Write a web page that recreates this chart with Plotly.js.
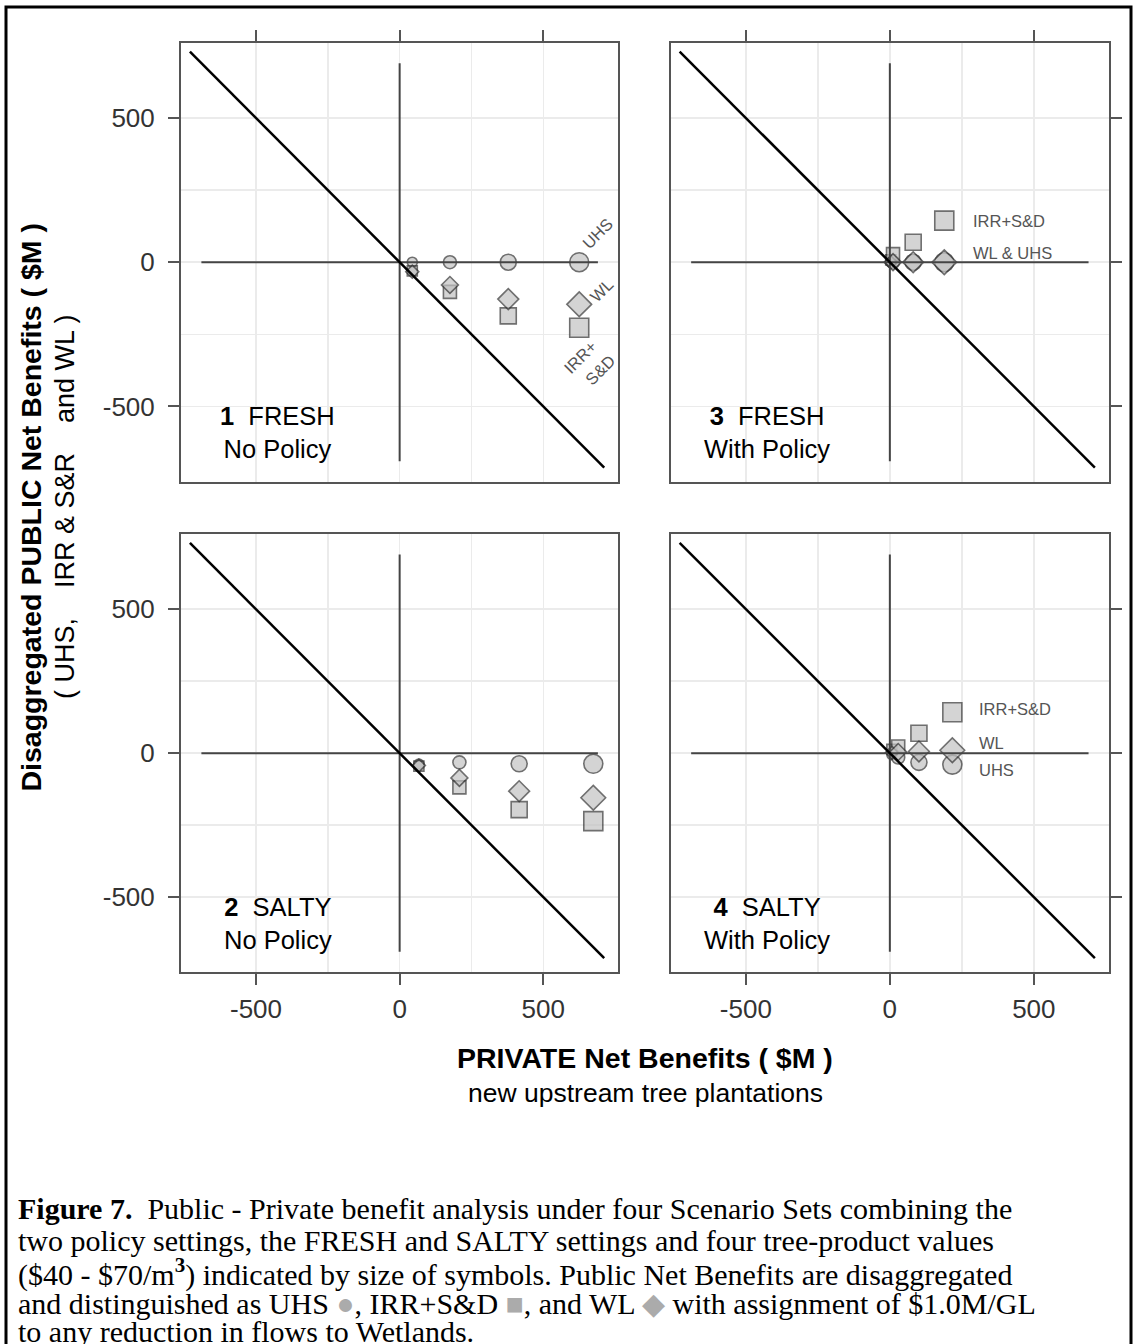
<!DOCTYPE html>
<html>
<head>
<meta charset="utf-8">
<script src="https://cdn.plot.ly/plotly-3.0.1.min.js"></script>
<style>
  html, body { margin: 0; padding: 0; background: #fff; }
  #chart { width: 1135px; height: 1344px; }
</style>
</head>
<body>
<div id="chart"></div>
<script>
// ---------------- DATA ----------------
const treeValues = [40, 50, 60, 70];               // $/m3, shown by symbol size

// Panel 1: FRESH, No Policy
const privateFreshNoPolicy = [44, 175, 378, 625];
const uhsFreshNoPolicy     = [0, 0, 0, 0];
const irrFreshNoPolicy     = [-30, -103, -186, -227];
const wlFreshNoPolicy      = [-33, -79, -128, -146];

// Panel 2: SALTY, No Policy
const privateSaltyNoPolicy = [67, 208, 416, 674];
const uhsSaltyNoPolicy     = [-38, -32, -37, -37];
const irrSaltyNoPolicy     = [-45, -119, -196, -236];
const wlSaltyNoPolicy      = [-43, -86, -132, -155];

// Panel 3: FRESH, With Policy
const privateFreshPolicy = [3, 11, 81, 189];
const uhsFreshPolicy     = [0, 0, 0, 0];
const irrFreshPolicy     = [8, 28, 69, 144];
const wlFreshPolicy      = [0, 0, 0, 0];

// Panel 4: SALTY, With Policy
const privateSaltyPolicy = [7, 29, 101, 217];
const uhsSaltyPolicy     = [-5, -15, -32, -40];
const irrSaltyPolicy     = [13, 23, 69, 142];
const wlSaltyPolicy      = [2, 4, 6, 10];

// Reference lines
const crossX = [-690, 690];
const crossY = [-690, 690];
const diagX  = [-730, 712];
const diagY  = [730, -712];

// Axes
const axisRange = [-761, 761];
const tickVals  = [-500, 0, 500];
const tickText  = ['-500', '0', '500'];
const minorVals = [-250, 250];

// Panel labels
const panelNum    = ['1', '3', '2', '4'];
const panelSet    = ['FRESH', 'FRESH', 'SALTY', 'SALTY'];
const panelPolicy = ['No Policy', 'With Policy', 'No Policy', 'With Policy'];

// ---------------- BUILD ----------------
const W = 1135, H = 1344;
const px = v => v / W;
const py = v => 1 - v / H;

const dx1 = [px(181), px(618.3)];
const dx2 = [px(670.7), px(1109)];
const dy1 = [py(481.7), py(42.7)];
const dy2 = [py(972.3), py(534)];

const sizeOf = v => 10 + (v - 40) * 0.3;
const sizes = treeValues.map(sizeOf);

const fillC = '#c2c2c2';
const edgeC = '#333333';

const panels = [
  {xa: 'x',  ya: 'y',  px: privateFreshNoPolicy, uhs: uhsFreshNoPolicy, irr: irrFreshNoPolicy, wl: wlFreshNoPolicy},
  {xa: 'x2', ya: 'y2', px: privateFreshPolicy,   uhs: uhsFreshPolicy,   irr: irrFreshPolicy,   wl: wlFreshPolicy},
  {xa: 'x3', ya: 'y3', px: privateSaltyNoPolicy, uhs: uhsSaltyNoPolicy, irr: irrSaltyNoPolicy, wl: wlSaltyNoPolicy},
  {xa: 'x4', ya: 'y4', px: privateSaltyPolicy,   uhs: uhsSaltyPolicy,   irr: irrSaltyPolicy,   wl: wlSaltyPolicy}
];

const traces = [];
panels.forEach(p => {
  const mk = sym => ({symbol: sym, size: sizes, color: fillC, line: {color: edgeC, width: 1.6}});
  traces.push({type: 'scatter', mode: 'markers', x: p.px, y: p.uhs, xaxis: p.xa, yaxis: p.ya, marker: mk('circle'), name: 'UHS', showlegend: false, hoverinfo: 'skip'});
  traces.push({type: 'scatter', mode: 'markers', x: p.px, y: p.irr, xaxis: p.xa, yaxis: p.ya, marker: mk('square'), name: 'IRR+S&D', showlegend: false, hoverinfo: 'skip'});
  traces.push({type: 'scatter', mode: 'markers', x: p.px, y: p.wl, xaxis: p.xa, yaxis: p.ya, marker: mk('diamond'), name: 'WL', showlegend: false, hoverinfo: 'skip'});
  // crosshair
  traces.push({type: 'scatter', mode: 'lines', x: crossX, y: [0, 0], xaxis: p.xa, yaxis: p.ya, line: {color: '#444', width: 2}, showlegend: false, hoverinfo: 'skip'});
  traces.push({type: 'scatter', mode: 'lines', x: [0, 0], y: crossY, xaxis: p.xa, yaxis: p.ya, line: {color: '#444', width: 2}, showlegend: false, hoverinfo: 'skip'});
  // diagonal (public = -private)
  traces.push({type: 'scatter', mode: 'lines', x: diagX, y: diagY, xaxis: p.xa, yaxis: p.ya, line: {color: '#000', width: 2.5}, showlegend: false, hoverinfo: 'skip'});
});

const tickFont = {family: 'Liberation Sans, Arial, sans-serif', size: 26, color: '#333'};
function ax(domain, anchor, side, labels, standoff) {
  return {
    domain: domain, anchor: anchor, side: side, range: axisRange,
    tickmode: 'array', tickvals: tickVals, ticktext: tickText,
    showticklabels: labels, tickfont: tickFont,
    ticks: 'outside', ticklen: 11, tickwidth: 2, tickcolor: '#555',
    ticklabelstandoff: standoff,
    showline: true, mirror: true, linecolor: '#555', linewidth: 2,
    showgrid: true, gridcolor: '#ebebeb', gridwidth: 1.5,
    minor: {tickmode: 'array', tickvals: minorVals, showgrid: true, gridcolor: '#ebebeb', gridwidth: 1.5, ticks: ''},
    zeroline: false, fixedrange: true
  };
}

const labelFont = {family: 'Liberation Sans, Arial, sans-serif', size: 16.5, color: '#555'};
const annotations = [];
// in-panel series labels
annotations.push({xref: 'x', yref: 'y', x: 690, y: 101, text: 'UHS', textangle: -45, showarrow: false, font: labelFont});
annotations.push({xref: 'x', yref: 'y', x: 704, y: -96, text: 'WL', textangle: -45, showarrow: false, font: labelFont});
annotations.push({xref: 'x', yref: 'y', x: 628, y: -328, text: 'IRR+', textangle: -45, showarrow: false, font: labelFont});
annotations.push({xref: 'x', yref: 'y', x: 697, y: -373, text: 'S&D', textangle: -45, showarrow: false, font: labelFont});
annotations.push({xref: 'x2', yref: 'y2', x: 282, y: 144, text: 'IRR+S&D', xanchor: 'left', showarrow: false, font: labelFont});
annotations.push({xref: 'x2', yref: 'y2', x: 282, y: 33, text: 'WL & UHS', xanchor: 'left', showarrow: false, font: labelFont});
annotations.push({xref: 'x4', yref: 'y4', x: 302, y: 155, text: 'IRR+S&D', xanchor: 'left', showarrow: false, font: labelFont});
annotations.push({xref: 'x4', yref: 'y4', x: 302, y: 34, text: 'WL', xanchor: 'left', showarrow: false, font: labelFont});
annotations.push({xref: 'x4', yref: 'y4', x: 302, y: -60, text: 'UHS', xanchor: 'left', showarrow: false, font: labelFont});

// panel titles
const panelFont = {family: 'Liberation Sans, Arial, sans-serif', size: 25.5, color: '#000'};
['x', 'x2', 'x3', 'x4'].forEach((xa, i) => {
  const ya = xa.replace('x', 'y');
  annotations.push({
    xref: xa, yref: ya, x: -425, y: -592, showarrow: false, align: 'center',
    text: '<b>' + panelNum[i] + '</b>&nbsp;&nbsp;' + panelSet[i] + '<br>' + panelPolicy[i],
    font: panelFont
  });
});

// axis titles
const titleBold = {family: 'Liberation Sans, Arial, sans-serif', size: 28.5, color: '#000'};
const titleReg  = {family: 'Liberation Sans, Arial, sans-serif', size: 26.5, color: '#000'};
const titleReg2 = {family: 'Liberation Sans, Arial, sans-serif', size: 27, color: '#000'};
annotations.push({xref: 'paper', yref: 'paper', x: px(30), y: py(507.5), textangle: -90, showarrow: false,
  text: '<b>Disaggregated PUBLIC Net Benefits ( $M )</b>', font: titleBold, xanchor: 'center', yanchor: 'middle'});
annotations.push({xref: 'paper', yref: 'paper', x: px(65), y: py(507), textangle: -90, showarrow: false,
  text: '( UHS,&nbsp;&nbsp;&nbsp; IRR & S&R&nbsp;&nbsp;&nbsp; and WL )', font: titleReg2, xanchor: 'center', yanchor: 'middle'});
annotations.push({xref: 'paper', yref: 'paper', x: px(645), y: py(1058), showarrow: false,
  text: '<b>PRIVATE Net Benefits ( $M )</b>', font: titleBold, xanchor: 'center', yanchor: 'middle'});
annotations.push({xref: 'paper', yref: 'paper', x: px(645), y: py(1093), showarrow: false,
  text: 'new upstream tree plantations', font: titleReg, xanchor: 'center', yanchor: 'middle'});

// caption
const capFont = {family: 'Liberation Serif, Times New Roman, serif', size: 30, color: '#000'};
const sym = (ch) => '<span style="color:#ababab">' + ch + '</span>';
const captionLines = [
  '<b>Figure 7.</b>&nbsp; Public - Private benefit analysis under four Scenario Sets combining the',
  'two policy settings, the FRESH and SALTY settings and four tree-product values',
  '($40 - $70/m<sup><b>3</b></sup>) indicated by size of symbols. Public Net Benefits are disaggregated',
  'and distinguished as UHS ' + sym('●') + ', IRR+S&D ' + sym('■') + ', and WL ' + sym('◆') + ' with assignment of $1.0M/GL',
  'to any reduction in flows to Wetlands.'
];
const captionY = [1208, 1240, 1272, 1303, 1331];
captionLines.forEach((t, i) => {
  annotations.push({xref: 'paper', yref: 'paper', x: px(16), y: py(captionY[i]), xanchor: 'left', yanchor: 'middle',
    showarrow: false, text: t, font: capFont});
});

const layout = {
  width: W, height: H,
  margin: {l: 0, r: 0, t: 0, b: 0},
  paper_bgcolor: '#fff', plot_bgcolor: '#fff',
  showlegend: false,
  xaxis:  ax(dx1, 'y',  'top',    false, 0),
  yaxis:  ax(dy1, 'x',  'left',   true, 8),
  xaxis2: ax(dx2, 'y2', 'top',    false, 0),
  yaxis2: ax(dy1, 'x2', 'right',  false, 8),
  xaxis3: ax(dx1, 'y3', 'bottom', true, 1),
  yaxis3: ax(dy2, 'x3', 'left',   true, 8),
  xaxis4: ax(dx2, 'y4', 'bottom', true, 1),
  yaxis4: ax(dy2, 'x4', 'right',  false, 8),
  annotations: annotations,
  shapes: [
    {type: 'rect', xref: 'paper', yref: 'paper', x0: px(6), x1: px(1131), y0: -0.02, y1: py(7),
     line: {color: '#000', width: 3}, fillcolor: 'rgba(0,0,0,0)', layer: 'above'}
  ]
};

Plotly.newPlot('chart', traces, layout, {displayModeBar: false, staticPlot: true});
</script>
</body>
</html>
